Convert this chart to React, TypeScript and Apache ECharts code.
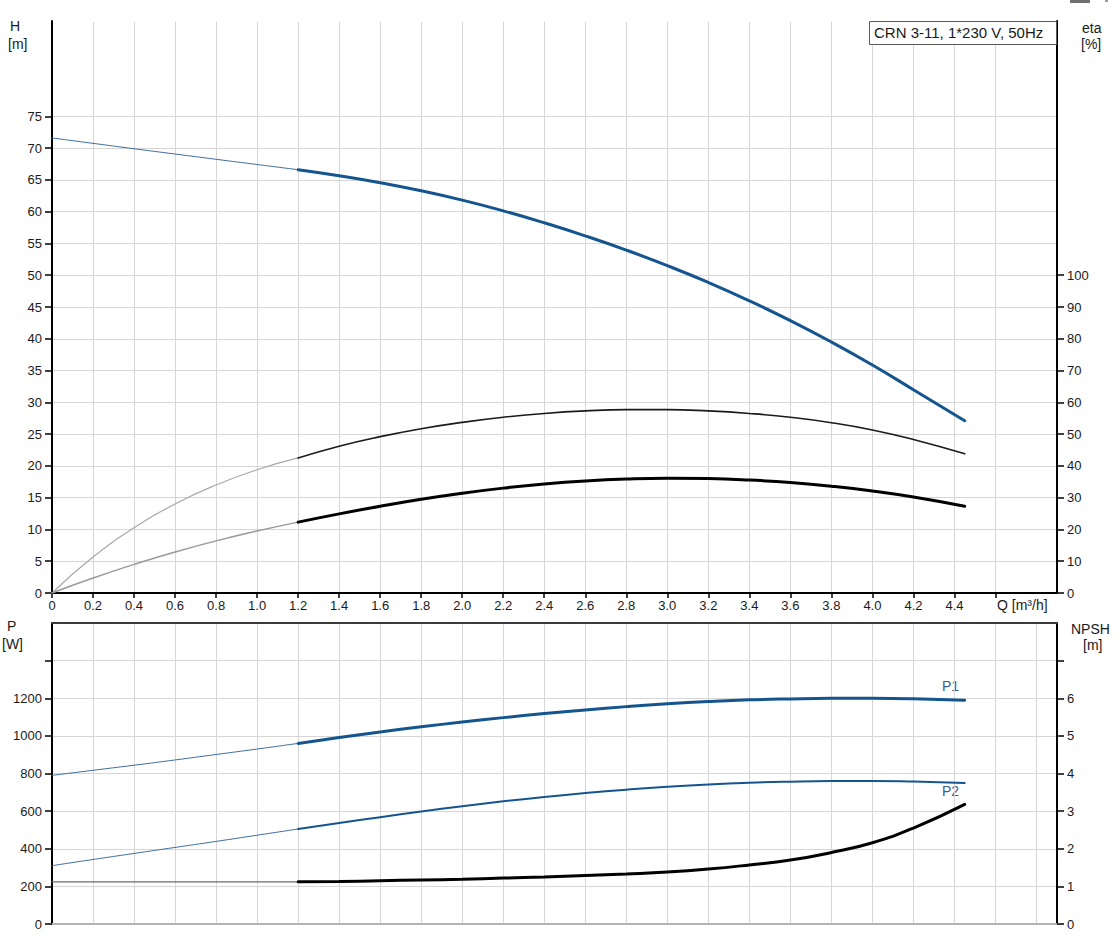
import React, { useEffect, useRef } from "react";
import * as echarts from "echarts";

// Flow rate Q [m³/h]
const qLow = [0, 0.2, 0.4, 0.6, 0.8, 1.0, 1.2];
const qHigh = [1.2, 1.4, 1.6, 1.8, 2.0, 2.2, 2.4, 2.6, 2.8, 3.0, 3.2, 3.4, 3.6, 3.8, 4.0, 4.2, 4.45];

// Head H [m]
const hLow = [71.6, 70.75, 69.9, 69.07, 68.24, 67.42, 66.6];
const hHigh = [66.6, 65.65, 64.55, 63.28, 61.81, 60.13, 58.25, 56.19, 53.95, 51.51, 48.86, 45.98, 42.86, 39.49, 35.87, 31.99, 27.1];

// Efficiency (pump) eta [%]
const etaPumpLow = [0, 11.3, 20.5, 28.0, 34.0, 38.8, 42.5];
const etaPumpHigh = [42.5, 46.2, 49.2, 51.7, 53.7, 55.3, 56.5, 57.3, 57.7, 57.7, 57.3, 56.5, 55.3, 53.6, 51.3, 48.3, 43.8];

// Efficiency (total) eta [%]
const etaTotLow = [0, 4.7, 9.0, 12.9, 16.4, 19.5, 22.3];
const etaTotHigh = [22.3, 24.9, 27.3, 29.5, 31.4, 33.0, 34.3, 35.25, 35.85, 36.1, 36.0, 35.55, 34.75, 33.6, 32.1, 30.2, 27.3];

// Power P1 / P2 [W]
const p1Low = [790, 817, 844, 872, 901, 930, 960];
const p1High = [960, 991, 1020.5, 1048, 1073.5, 1097, 1118.5, 1138, 1155.5, 1170.5, 1182.5, 1191.5, 1196.5, 1199.5, 1200, 1197.5, 1189.5];
const p2Low = [310, 343, 375, 407, 439, 472, 505];
const p2High = [505, 537, 568, 598, 626, 652, 675.5, 696, 714, 729.5, 742, 751, 756.5, 759.5, 760, 757, 750];

// NPSH [m]
const npshLow = [1.12, 1.12, 1.12, 1.12, 1.12, 1.12, 1.12];
const npshHigh = [1.12, 1.13, 1.15, 1.17, 1.19, 1.22, 1.25, 1.29, 1.33, 1.38, 1.46, 1.57, 1.7, 1.9, 2.16, 2.55, 3.18];

// Ticks and labels
const qTicks = [0, 0.2, 0.4, 0.6, 0.8, 1.0, 1.2, 1.4, 1.6, 1.8, 2.0, 2.2, 2.4, 2.6, 2.8, 3.0, 3.2, 3.4, 3.6, 3.8, 4.0, 4.2, 4.4, 4.6];
const qLabels = [0, 0.2, 0.4, 0.6, 0.8, 1.0, 1.2, 1.4, 1.6, 1.8, 2.0, 2.2, 2.4, 2.6, 2.8, 3.0, 3.2, 3.4, 3.6, 3.8, 4.0, 4.2, 4.4];
const hTicks = [0, 5, 10, 15, 20, 25, 30, 35, 40, 45, 50, 55, 60, 65, 70, 75];
const etaTicks = [0, 10, 20, 30, 40, 50, 60, 70, 80, 90, 100];
const pTicks = [0, 200, 400, 600, 800, 1000, 1200, 1400];
const pLabels = [0, 200, 400, 600, 800, 1000, 1200];
const npshTicks = [0, 1, 2, 3, 4, 5, 6, 7];
const npshLabels = [0, 1, 2, 3, 4, 5, 6];

const TITLE = "CRN 3-11, 1*230 V, 50Hz";
const FONT = "'Liberation Sans', Arial, sans-serif";

const BLUE = "#15558f";
const BLUE_THIN = "#3f6c9e";
const GRID_COLOR = "#d6d6d6";
const TEXT = "#1a1a1a";

function zip(xs: number[], ys: number[]) {
  return xs.map((x, i) => [x, ys[i]]);
}

function line(data: number[][], xi: number, yi: number, color: string, width: number) {
  return {
    type: "line",
    xAxisIndex: xi,
    yAxisIndex: yi,
    data,
    smooth: 0.5,
    symbol: "none",
    silent: true,
    lineStyle: { color, width, cap: "round" },
  };
}

export default function App() {
  const ref = useRef<HTMLDivElement>(null);

  useEffect(() => {
    if (!ref.current) return;
    const chart = echarts.init(ref.current, null, { renderer: "svg" });

    const splitLine = { show: true, lineStyle: { color: GRID_COLOR, width: 1 } };
    const labelStyle = { color: TEXT, fontSize: 13, fontFamily: FONT, formatter: (v: number) => String(v) };

    const option: any = {
      animation: false,
      backgroundColor: "#ffffff",
      grid: [
        { left: 52, right: 62, top: 21, height: 572, containLabel: false },
        { left: 52, right: 62, top: 623, height: 301, containLabel: false },
      ],
      xAxis: [
        {
          type: "value",
          gridIndex: 0,
          min: 0,
          max: 4.9,
          interval: 0.2,
          axisLine: { show: true, onZero: false, lineStyle: { color: "#000", width: 2 } },
          axisTick: { show: true, customValues: qTicks, length: 5, lineStyle: { color: "#000", width: 1.5 } },
          axisLabel: {
            ...labelStyle,
            customValues: qLabels,
            margin: 6,
            formatter: (v: number) => (v === 0 ? "0" : v.toFixed(1)),
          },
          splitLine,
        },
        {
          type: "value",
          gridIndex: 1,
          min: 0,
          max: 4.9,
          interval: 0.2,
          position: "bottom",
          axisLine: { show: true, onZero: false, lineStyle: { color: "#b4b4b4", width: 2 } },
          axisTick: { show: false },
          axisLabel: { show: false },
          splitLine,
        },
        {
          type: "value",
          gridIndex: 1,
          min: 0,
          max: 4.9,
          position: "top",
          axisLine: { show: true, onZero: false, lineStyle: { color: "#3a3a3a", width: 2 } },
          axisTick: { show: false },
          axisLabel: { show: false },
          splitLine: { show: false },
        },
      ],
      yAxis: [
        {
          type: "value",
          gridIndex: 0,
          position: "left",
          min: 0,
          max: 90,
          interval: 5,
          axisLine: { show: true, onZero: false, lineStyle: { color: "#000", width: 2 } },
          axisTick: { show: true, customValues: hTicks, length: 7, lineStyle: { color: "#000", width: 1.5 } },
          axisLabel: { ...labelStyle, customValues: hTicks, margin: 10 },
          splitLine,
        },
        {
          type: "value",
          gridIndex: 0,
          position: "right",
          min: 0,
          max: 180,
          interval: 10,
          axisLine: { show: true, onZero: false, lineStyle: { color: "#000", width: 2 } },
          axisTick: { show: true, customValues: etaTicks, length: 7, lineStyle: { color: "#000", width: 1.5 } },
          axisLabel: { ...labelStyle, customValues: etaTicks, margin: 10 },
          splitLine: { show: false },
        },
        {
          type: "value",
          gridIndex: 1,
          position: "left",
          min: 0,
          max: 1600,
          interval: 200,
          axisLine: { show: true, onZero: false, lineStyle: { color: "#000", width: 2 } },
          axisTick: { show: true, customValues: pTicks, length: 7, lineStyle: { color: "#000", width: 1.5 } },
          axisLabel: { ...labelStyle, customValues: pLabels, margin: 10 },
          splitLine,
        },
        {
          type: "value",
          gridIndex: 1,
          position: "right",
          min: 0,
          max: 8,
          interval: 1,
          axisLine: { show: true, onZero: false, lineStyle: { color: "#000", width: 2 } },
          axisTick: { show: true, customValues: npshTicks, length: 7, lineStyle: { color: "#000", width: 1.5 } },
          axisLabel: { ...labelStyle, customValues: npshLabels, margin: 10 },
          splitLine: { show: false },
        },
      ],
      series: [
        line(zip(qLow, hLow), 0, 0, BLUE_THIN, 1),
        line(zip(qHigh, hHigh), 0, 0, BLUE, 3),
        line(zip(qLow, etaPumpLow), 0, 1, "#a8a8a8", 1.2),
        line(zip(qHigh, etaPumpHigh), 0, 1, "#1a1a1a", 1.6),
        line(zip(qLow, etaTotLow), 0, 1, "#9a9a9a", 1.5),
        line(zip(qHigh, etaTotHigh), 0, 1, "#000000", 3),
        line(zip(qLow, p1Low), 1, 2, BLUE_THIN, 1),
        line(zip(qHigh, p1High), 1, 2, BLUE, 3),
        line(zip(qLow, p2Low), 1, 2, BLUE_THIN, 1),
        line(zip(qHigh, p2High), 1, 2, BLUE, 2),
        line(zip(qLow, npshLow), 1, 3, "#6a6a6a", 1.2),
        line(zip(qHigh, npshHigh), 1, 3, "#000000", 3),
      ],
      graphic: [
        // hide the top-most gridline of the upper panel (no top border in the reference)
        { type: "rect", shape: { x: 53, y: 20, width: 815, height: 2 }, style: { fill: "#ffffff" }, z: 50 },
        { type: "text", left: 10, top: 19, style: { text: "H", font: `14px ${FONT}`, fill: TEXT } },
        { type: "text", left: 8, top: 37, style: { text: "[m]", font: `14px ${FONT}`, fill: TEXT } },
        { type: "text", left: 1082, top: 21, style: { text: "eta", font: `14px ${FONT}`, fill: TEXT } },
        { type: "text", left: 1081, top: 37, style: { text: "[%]", font: `14px ${FONT}`, fill: TEXT } },
        { type: "text", left: 7, top: 619, style: { text: "P", font: `14px ${FONT}`, fill: TEXT } },
        { type: "text", left: 2, top: 637, style: { text: "[W]", font: `14px ${FONT}`, fill: TEXT } },
        { type: "text", left: 1071, top: 622, style: { text: "NPSH", font: `14px ${FONT}`, fill: TEXT } },
        { type: "text", left: 1083, top: 638, style: { text: "[m]", font: `14px ${FONT}`, fill: TEXT } },
        { type: "text", left: 997, top: 598, style: { text: "Q [m³/h]", font: `14px ${FONT}`, fill: TEXT } },
        { type: "text", left: 942, top: 679, style: { text: "P1", font: `14px ${FONT}`, fill: "#3d5a8a" } },
        { type: "text", left: 942, top: 784, style: { text: "P2", font: `14px ${FONT}`, fill: "#3d5a8a" } },
        {
          type: "rect",
          shape: { x: 869.5, y: 21.5, width: 187, height: 23 },
          style: { fill: "#ffffff", stroke: "#5a5a5a", lineWidth: 1 },
          z: 100,
        },
        {
          type: "text",
          x: 874,
          y: 25,
          z: 101,
          style: { text: TITLE, font: `15px ${FONT}`, fill: TEXT },
        },
        {
          type: "rect",
          shape: { x: 1070, y: 0, width: 20, height: 3 },
          style: { fill: "#707070" },
        },
        {
          type: "rect",
          shape: { x: 1105, y: 0, width: 3, height: 2 },
          style: { fill: "#9a9a9a" },
        },
      ],
    };

    chart.setOption(option);
    return () => chart.dispose();
  }, []);

  return (
    <div
      ref={ref}
      style={{ position: "absolute", left: 0, top: 0, width: 1119, height: 948, background: "#fff" }}
    />
  );
}
